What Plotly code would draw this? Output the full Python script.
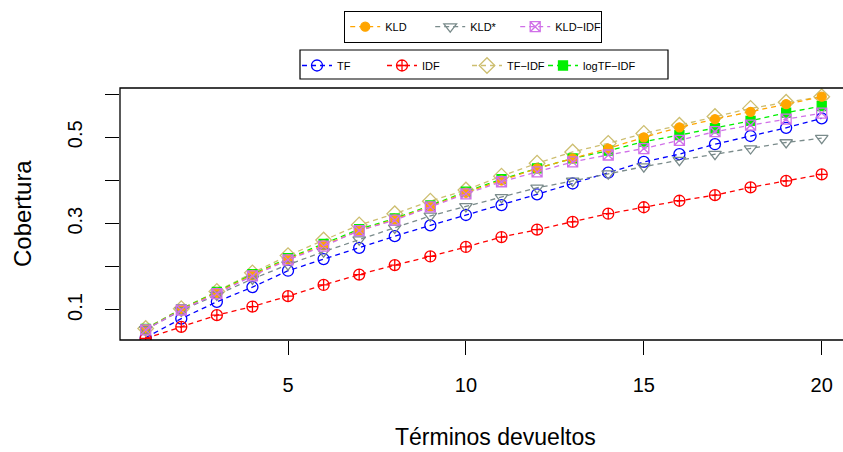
import plotly.graph_objects as go

x = list(range(1, 21))

tf = [0.036, 0.080, 0.119, 0.153, 0.191, 0.218, 0.244, 0.271, 0.296, 0.320,
      0.343, 0.368, 0.393, 0.418, 0.443, 0.461, 0.484, 0.503, 0.522, 0.544]
idf = [0.034, 0.061, 0.088, 0.108, 0.132, 0.158, 0.182, 0.204, 0.224, 0.246,
       0.269, 0.286, 0.304, 0.323, 0.338, 0.353, 0.366, 0.384, 0.399, 0.414]
tfidf = [0.057, 0.103, 0.143, 0.186, 0.226, 0.262, 0.297, 0.323, 0.352, 0.378,
         0.410, 0.440, 0.466, 0.486, 0.509, 0.528, 0.548, 0.567, 0.581, 0.594]
logtfidf = [0.056, 0.102, 0.142, 0.183, 0.220, 0.253, 0.287, 0.312, 0.342, 0.374,
            0.403, 0.428, 0.451, 0.469, 0.490, 0.505, 0.521, 0.538, 0.557, 0.572]
kld = [0.055, 0.101, 0.140, 0.181, 0.218, 0.250, 0.284, 0.310, 0.340, 0.372,
       0.400, 0.428, 0.451, 0.474, 0.500, 0.523, 0.542, 0.559, 0.577, 0.594]
kldstar = [0.055, 0.099, 0.135, 0.172, 0.205, 0.235, 0.263, 0.290, 0.318, 0.340,
           0.361, 0.383, 0.399, 0.416, 0.432, 0.447, 0.461, 0.474, 0.488, 0.498]
kldidf = [0.054, 0.100, 0.138, 0.179, 0.216, 0.248, 0.284, 0.308, 0.339, 0.369,
          0.397, 0.420, 0.443, 0.459, 0.474, 0.493, 0.513, 0.528, 0.542, 0.556]

x_ticks = [5, 10, 15, 20]
y_ticks = [0.1, 0.2, 0.3, 0.4, 0.5, 0.6]
y_ticktext = ["0.1", "", "0.3", "", "0.5", ""]

series = [
    ("TF", tf, "blue", "circle-open", 11, "legend2"),
    ("IDF", idf, "red", "circle-cross-open", 11, "legend2"),
    ("TF\u2212IDF", tfidf, "#CDBE70", "diamond-open", 12, "legend2"),
    ("logTF\u2212IDF", logtfidf, "#00F000", "square", 9, "legend3"),
    ("KLD", kld, "orange", "circle", 9, "legend"),
    ("KLD*", kldstar, "#7A8B8B", "triangle-down-open", 11, "legend"),
    ("KLD\u2212IDF", kldidf, "#D070E8", "square-x-open", 10, "legend"),
]

fig = go.Figure()
for name, vals, col, sym, sz, leg in series:
    fig.add_trace(go.Scatter(
        x=x, y=vals, name=name, mode="lines+markers", legend=leg,
        line=dict(color=col, width=1.3, dash="5px,4px"),
        marker=dict(symbol=sym, size=sz, color=col, line=dict(color=col, width=1.3)),
    ))

FONT = "Liberation Sans, Arial, sans-serif"
PL, PT, PW, PH = 120, 88, 723, 252


def px(v):
    return (v - PL) / PW


def py(v):
    return (PT + PH - v) / PH


leg_common = dict(orientation="h", xref="container", yref="container",
                  xanchor="left", yanchor="top", font=dict(size=11, family=FONT),
                  bgcolor="rgba(0,0,0,0)")

fig.update_layout(
    width=843, height=452,
    margin=dict(l=PL, r=0, t=PT, b=452 - PT - PH),
    plot_bgcolor="white", paper_bgcolor="white",
    font=dict(family=FONT, color="black"),
    xaxis=dict(range=[0.2777, 20.598], tickvals=x_ticks, ticks="outside", ticklen=14,
               tickwidth=1.2, tickcolor="black", showgrid=False, zeroline=False,
               showline=False, tickfont=dict(size=20), ticklabelstandoff=13),
    yaxis=dict(range=[0.0305, 0.6142], tickvals=y_ticks, ticktext=y_ticktext,
               ticks="outside", ticklen=14, tickwidth=1.2, tickcolor="black",
               showgrid=False, zeroline=False, showline=False, tickangle=-90,
               tickfont=dict(size=20), ticklabelstandoff=15),
    legend=dict(leg_common, x=344 / 843, y=1 - 11 / 452, entrywidth=40,
                entrywidthmode="pixels", bordercolor="black", borderwidth=1.2),
    legend2=dict(leg_common, x=297 / 843, y=1 - 51 / 452, entrywidth=40,
                 entrywidthmode="pixels", borderwidth=0),
    legend3=dict(leg_common, x=543 / 843, y=1 - 51 / 452, borderwidth=0),
    shapes=[
        dict(type="rect", xref="paper", yref="paper", x0=0, x1=1.02, y0=0, y1=1,
             line=dict(color="black", width=1.3), layer="above"),
        dict(type="rect", xref="paper", yref="paper", x0=px(300), x1=px(668),
             y0=py(79), y1=py(50), line=dict(color="black", width=1.2), layer="above"),
    ],
    annotations=[
        dict(text="Cobertura", xref="paper", yref="paper", x=px(22), y=0.5,
             showarrow=False, textangle=-90, font=dict(size=24, family=FONT),
             xanchor="center", yanchor="middle"),
        dict(text="Términos devueltos", xref="paper", yref="paper",
             x=px(495), y=py(437), showarrow=False,
             font=dict(size=23, family=FONT), xanchor="center", yanchor="middle"),
    ],
)

fig.write_html("out.html")
